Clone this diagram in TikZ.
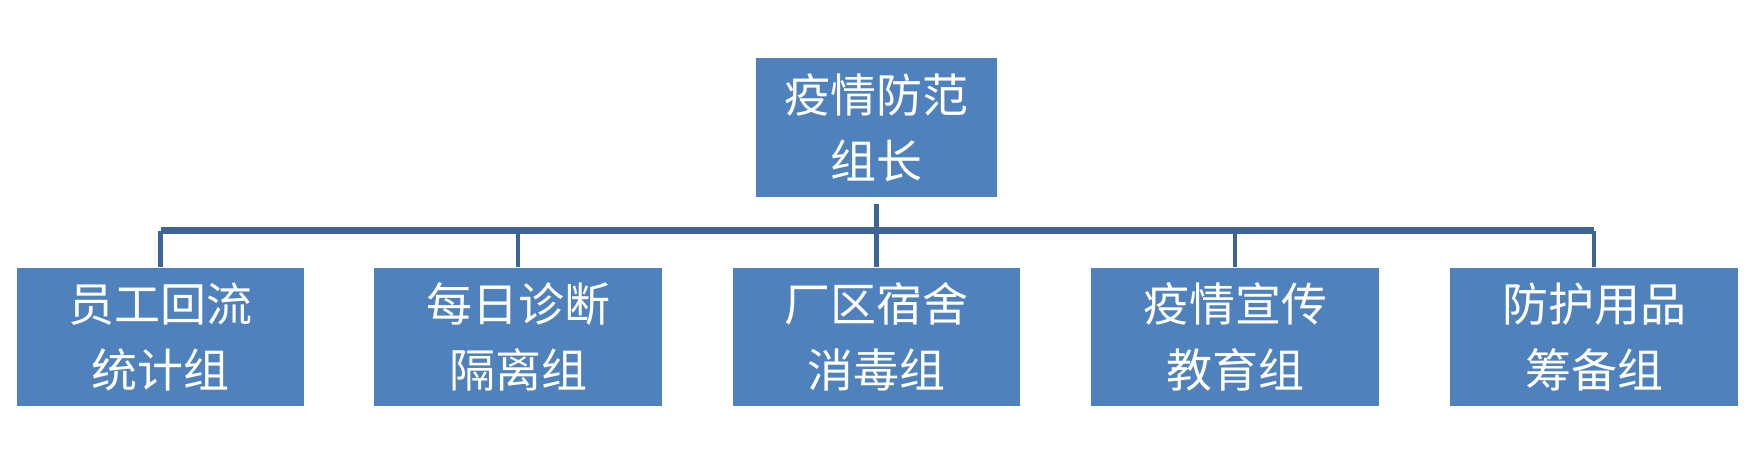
\documentclass[tikz,border=0pt]{standalone}
\usepackage{fontspec}
\newfontfamily\cjk{Noto Sans CJK SC}
\definecolor{boxblue}{HTML}{4F81BD}
\definecolor{linkblue}{HTML}{3E6496}
\begin{document}
\begin{tikzpicture}[x=1pt,y=1pt,
  box/.style={fill=boxblue,draw=none,text=white,inner sep=0pt,align=center,
    font=\cjk\fontsize{46}{66}\selectfont},
  link/.style={draw=linkblue,line width=4.5pt}]
\useasboundingbox (0,0) rectangle (1751,462);
\node[box,minimum width=241,minimum height=139] (top) at (876.5,334.5) {疫情防范\\组长};
\node[box,minimum width=287,minimum height=138] (b1) at (160.5,125) {员工回流\\统计组};
\node[box,minimum width=288,minimum height=138] (b2) at (518,125) {每日诊断\\隔离组};
\node[box,minimum width=287,minimum height=138] (b3) at (876.5,125) {厂区宿舍\\消毒组};
\node[box,minimum width=288,minimum height=138] (b4) at (1235,125) {疫情宣传\\教育组};
\node[box,minimum width=288,minimum height=138] (b5) at (1594,125) {防护用品\\筹备组};
\coordinate (tj) at (876.5,258);
\coordinate (t0) at (876.5,231);
\draw[link] ([yshift=-7pt]top.south) -- (t0);
\draw[draw=linkblue,line width=7pt] (160.5,231) -- (1594,231);
\foreach \b in {b1,b2,b3,b4,b5}{
  \draw[link] (\b.north |- t0) -- ([yshift=1pt]\b.north);
}
\end{tikzpicture}
\end{document}
